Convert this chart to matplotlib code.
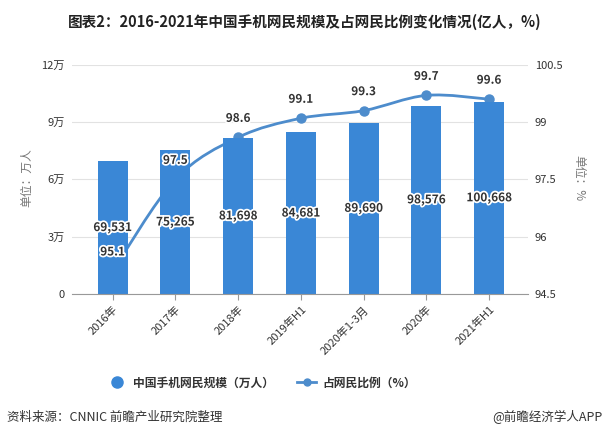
# 2016-2021 China mobile internet users (bars) and share of internet users (smooth line)

import matplotlib
matplotlib.use("Agg")
import matplotlib.pyplot as plt
import matplotlib.patheffects as pe
from matplotlib.path import Path
from matplotlib.patches import PathPatch
from matplotlib.lines import Line2D
import numpy as np

plt.rcParams['font.family'] = ['Noto Sans CJK SC', 'DejaVu Sans']

categories = ['2016年', '2017年', '2018年', '2019年H1', '2020年1-3月', '2020年', '2021年H1']
users = [69531, 75265, 81698, 84681, 89690, 98576, 100668]   # 万人
share = [95.1, 97.5, 98.6, 99.1, 99.3, 99.7, 99.6]            # %
left_ticks = [0, 30000, 60000, 90000, 120000]
left_labels = ['0', '3万', '6万', '9万', '12万']
right_ticks = [94.5, 96, 97.5, 99, 100.5]

bar_color = '#3a87d6'
line_color = '#4d8ccc'
text_color = '#333333'
outline = [pe.withStroke(linewidth=2.5, foreground='white')]


def smooth_path(xs, ys, k=1.0):
    """Catmull-Rom style cubic bezier path through the points"""
    pts = np.column_stack([xs, ys]).astype(float)
    n = len(pts)
    verts = [pts[0]]
    codes = [Path.MOVETO]
    for i in range(n - 1):
        p0 = pts[i - 1] if i > 0 else pts[i]
        p1 = pts[i]
        p2 = pts[i + 1]
        p3 = pts[i + 2] if i + 2 < n else pts[i + 1]
        c1 = p1 + (p2 - p0) / 6 * k
        c2 = p2 - (p3 - p1) / 6 * k
        verts += [c1, c2, p2]
        codes += [Path.CURVE4] * 3
    return Path(verts, codes)


fig = plt.figure(figsize=(6.09, 4.38), dpi=100)
ax = fig.add_axes([0.118, 0.329, 0.749, 0.523])
ax2 = ax.twinx()
# line goes behind the bars
ax.set_zorder(2)
ax2.set_zorder(1)
ax.patch.set_visible(False)

x = np.arange(len(categories))

# bars
ax.bar(x, users, width=0.48, color=bar_color, zorder=2)
ax.set_ylim(0, 120000)
ax.set_yticks(left_ticks)
ax.set_yticklabels(left_labels)
ax.set_xlim(-0.65, 6.62)
ax.set_xticks(x)
ax.set_xticklabels(categories, rotation=45, ha='right', rotation_mode='anchor')

for i, v in enumerate(users):
    ax.text(i, v / 2, f'{v:,}', ha='center', va='center', fontsize=8.5,
            fontweight='bold', color=text_color, path_effects=outline, zorder=5)

# line
ax2.set_ylim(94.5, 100.5)
ax2.set_yticks(right_ticks)
ax2.set_yticklabels(['94.5', '96', '97.5', '99', '100.5'])
ax2.add_patch(PathPatch(smooth_path(x, share), facecolor='none',
                        edgecolor=line_color, linewidth=2, zorder=3))
ax2.plot(x, share, 'o', color=line_color, markersize=6.5, zorder=4)
ax2.yaxis.grid(True, color='#e2e2e2', linewidth=0.8, zorder=0)
ax2.set_axisbelow(True)

for i, v in enumerate(share):
    ax.annotate(f'{v}', xy=(i, v), xycoords=ax2.transData, xytext=(0, 9),
                textcoords='offset points', ha='center', va='bottom', fontsize=8.5,
                fontweight='bold', color=text_color, path_effects=outline, zorder=6)

for a in (ax, ax2):
    for s in ('top', 'left', 'right'):
        a.spines[s].set_visible(False)
    a.spines['bottom'].set_color('#999999')
    a.tick_params(axis='y', length=0, labelsize=8, labelcolor=text_color, pad=5)
    a.tick_params(axis='x', length=4, color='#999999', labelsize=8, labelcolor=text_color)

ax2.spines['bottom'].set_visible(False)

# axis titles
fig.text(0.044, 1 - 178 / 438, '单位：万人', rotation=90, ha='center', va='center',
         fontsize=8.5, color='#777777')
fig.text(0.95, 1 - 178 / 438, '单位：%', rotation=-90, ha='center', va='center',
         fontsize=8.5, color='#777777')

# title
fig.text(0.5, 1 - 22 / 438, '图表2：2016-2021年中国手机网民规模及占网民比例变化情况(亿人，%)',
         ha='center', va='center', fontsize=10.5, fontweight='bold', color='#222222')

# legend
handles = [
    Line2D([], [], linestyle='none', marker='o', markersize=8, color=bar_color),
    Line2D([], [], color=line_color, linewidth=2, marker='o', markersize=5),
]
fig.legend(handles, ['中国手机网民规模（万人）', '占网民比例（%）'], loc='center',
           bbox_to_anchor=(0.43, 1 - 383 / 438), ncol=2, frameon=False,
           prop={'size': 8.5, 'weight': 'bold'}, handlelength=1.6,
           columnspacing=2.0, handletextpad=0.5, labelcolor=text_color)

# footer
fig.text(0.012, 1 - 417 / 438, '资料来源：CNNIC 前瞻产业研究院整理', ha='left', va='center',
         fontsize=9, color=text_color)
fig.text(0.99, 1 - 417 / 438, '@前瞻经济学人APP', ha='right', va='center',
         fontsize=9, color=text_color)

fig.savefig('out.png', dpi=100)
